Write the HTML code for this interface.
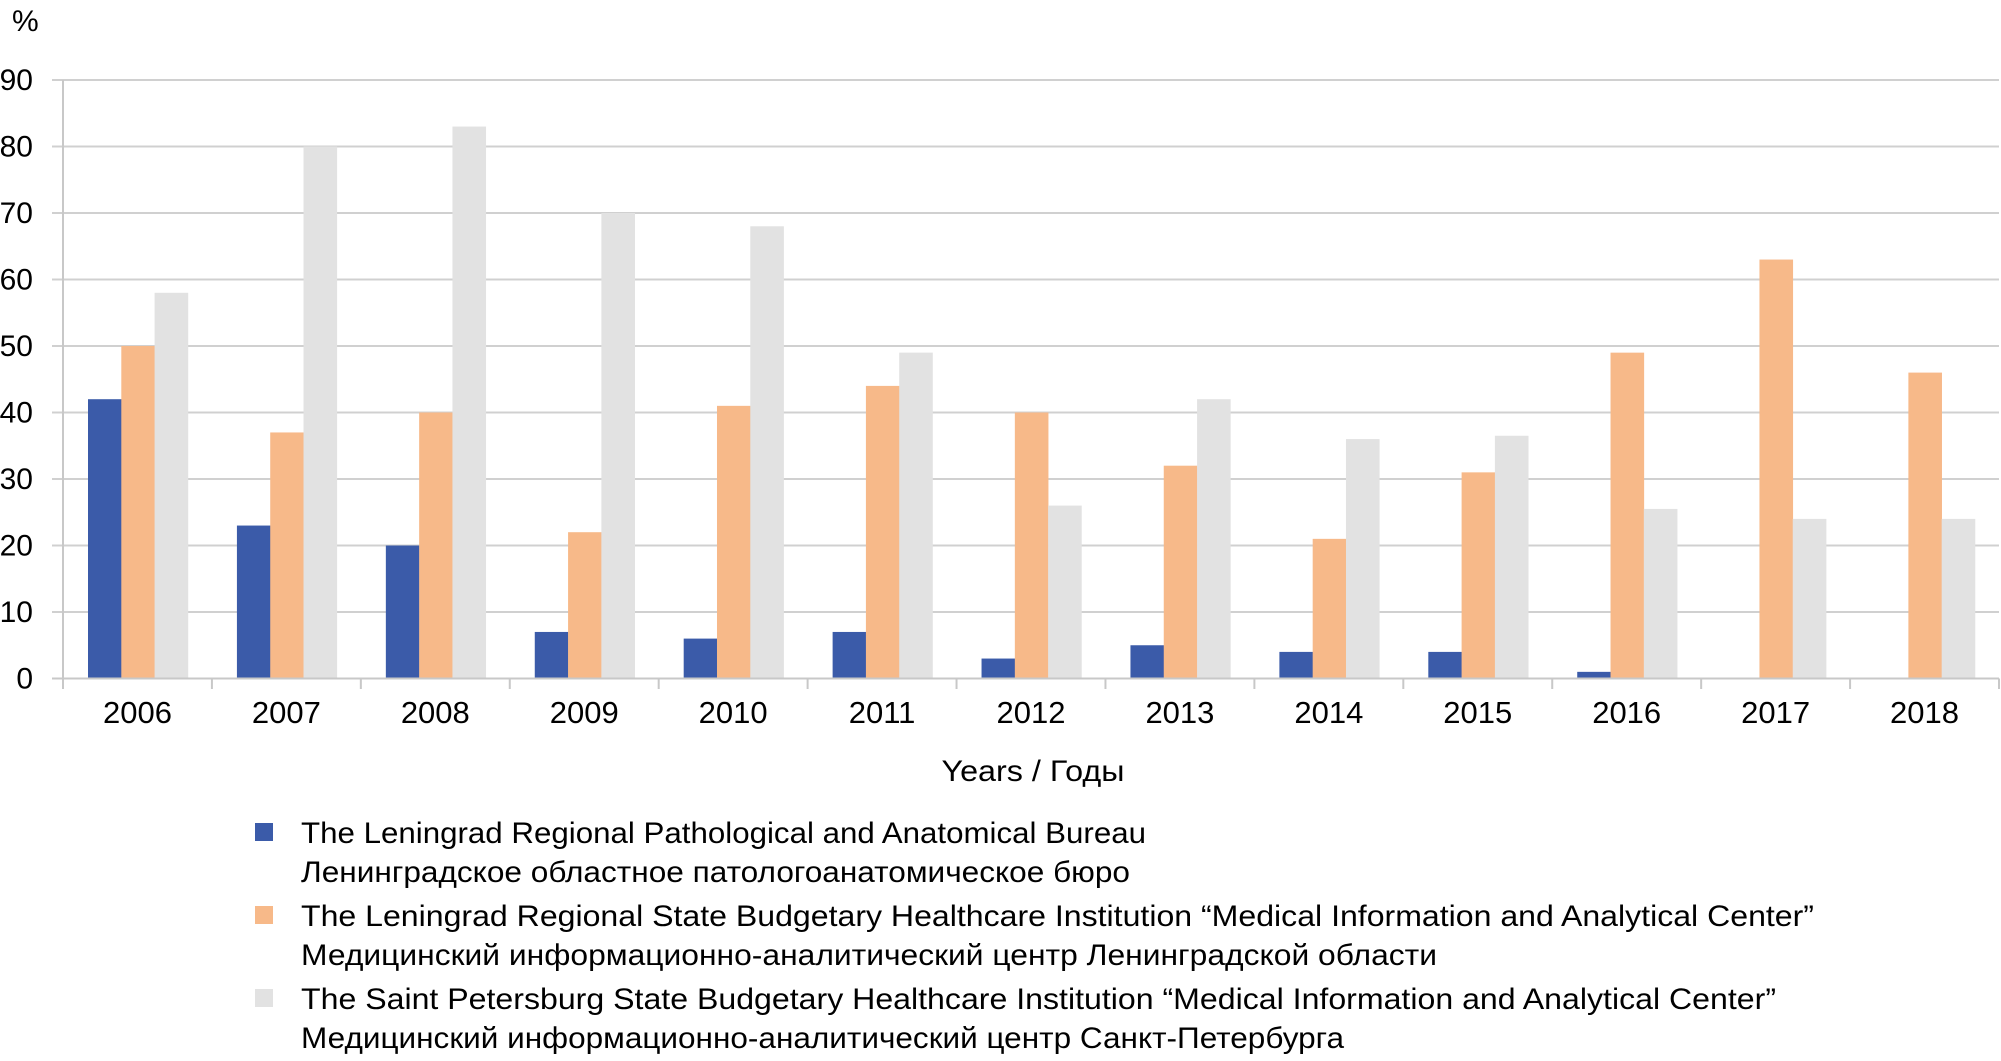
<!DOCTYPE html>
<html><head><meta charset="utf-8"><style>
html,body{margin:0;padding:0;background:#fff;}
svg{display:block;font-family:"Liberation Sans","DejaVu Sans",sans-serif;}
</style></head><body>
<svg id="chart" width="2001" height="1061" viewBox="0 0 2001 1061" xmlns="http://www.w3.org/2000/svg">
<g id="grid"></g>
<g id="bars"></g>
<g id="axes"></g>
<text x="12" y="31" font-size="30" fill="#000">%</text>
<text x="1033" y="781" font-size="30" text-anchor="middle" textLength="183" lengthAdjust="spacingAndGlyphs">Years / Годы</text>
<g font-size="30" fill="#000">
  <rect x="255" y="823" width="18" height="18" fill="#3B5BA9"/>
  <text x="301" y="843" textLength="845" lengthAdjust="spacingAndGlyphs">The Leningrad Regional Pathological and Anatomical Bureau</text>
  <text x="301" y="882" textLength="829" lengthAdjust="spacingAndGlyphs">Ленинградское областное патологоанатомическое бюро</text>
  <rect x="255" y="906" width="18" height="18" fill="#F7B989"/>
  <text x="301" y="926" textLength="1513" lengthAdjust="spacingAndGlyphs">The Leningrad Regional State Budgetary Healthcare Institution “Medical Information and Analytical Center”</text>
  <text x="301" y="965" textLength="1136" lengthAdjust="spacingAndGlyphs">Медицинский информационно-аналитический центр Ленинградской области</text>
  <rect x="255" y="989" width="18" height="18" fill="#E2E2E2"/>
  <text x="301" y="1009" textLength="1475" lengthAdjust="spacingAndGlyphs">The Saint Petersburg State Budgetary Healthcare Institution “Medical Information and Analytical Center”</text>
  <text x="301" y="1048" textLength="1043" lengthAdjust="spacingAndGlyphs">Медицинский информационно-аналитический центр Санкт-Петербурга</text>
</g>
</svg>
<script>
const categories = ["2006","2007","2008","2009","2010","2011","2012","2013","2014","2015","2016","2017","2018"];
const bureauValues = [42,23,20,7,6,7,3,5,4,4,1,0,0];
const lenMiacValues = [50,37,40,22,41,44,40,32,21,31,49,63,46];
const spbMiacValues = [58,80,83,70,68,49,26,42,36,36.5,25.5,24,24];
const yTicks = [0,10,20,30,40,50,60,70,80,90];

const NS = "http://www.w3.org/2000/svg";
const plotLeft = 63, plotRight = 1999, y0 = 678.5, yPer = 6.65;
const catW = (plotRight - plotLeft) / categories.length;
const barW = 33.3, offset = 25;
function yScale(v){ return y0 - v * yPer; }
function xCat(i){ return plotLeft + i * catW; }
function mk(tag, attrs, parent){
  const el = document.createElementNS(NS, tag);
  for (const k in attrs) el.setAttribute(k, attrs[k]);
  parent.appendChild(el); return el;
}
const grid = document.getElementById('grid');
const axes = document.getElementById('axes');
const barsG = document.getElementById('bars');

yTicks.forEach(t => {
  const y = yScale(t);
  if (t > 0) {
    const l = mk('line', {x1:52, x2:plotRight, y1:y, y2:y, stroke:'#D0D0D0', 'stroke-width':2}, grid);
    
    
  }
  const tx = mk('text', {x:33, y:y+10, 'font-size':30, 'text-anchor':'end', fill:'#000'}, axes);
  tx.textContent = t;
  
  
});

const seriesList = [[bureauValues,'#3B5BA9','bureau'],[lenMiacValues,'#F7B989','len-miac'],[spbMiacValues,'#E2E2E2','spb-miac']];
categories.forEach((c, i) => {
  seriesList.forEach((s, j) => {
    const v = s[0][i];
    if (v <= 0) return;
    const r = mk('rect', {x: xCat(i) + offset + j*barW, y: yScale(v), width: barW + 0.3, height: y0 - yScale(v), fill: s[1]}, barsG);
    
    
  });
  const tx = mk('text', {x: xCat(i) + catW/2, y: 723, 'font-size':31, 'text-anchor':'middle', fill:'#000'}, axes);
  tx.textContent = c;
  
  
});
for (let i = 0; i <= categories.length; i++) {
  const x = xCat(i);
  const tk = mk('line', {x1:x, x2:x, y1:y0, y2:689, stroke:'#C8C8C8', 'stroke-width':2}, axes);
  
  
}
const xa = mk('line', {x1:52, x2:plotRight, y1:y0, y2:y0, stroke:'#C8C8C8', 'stroke-width':2}, axes);


const ya = mk('line', {x1:plotLeft, x2:plotLeft, y1:yScale(90), y2:689, stroke:'#C8C8C8', 'stroke-width':2}, axes);


</script>
</body></html>
